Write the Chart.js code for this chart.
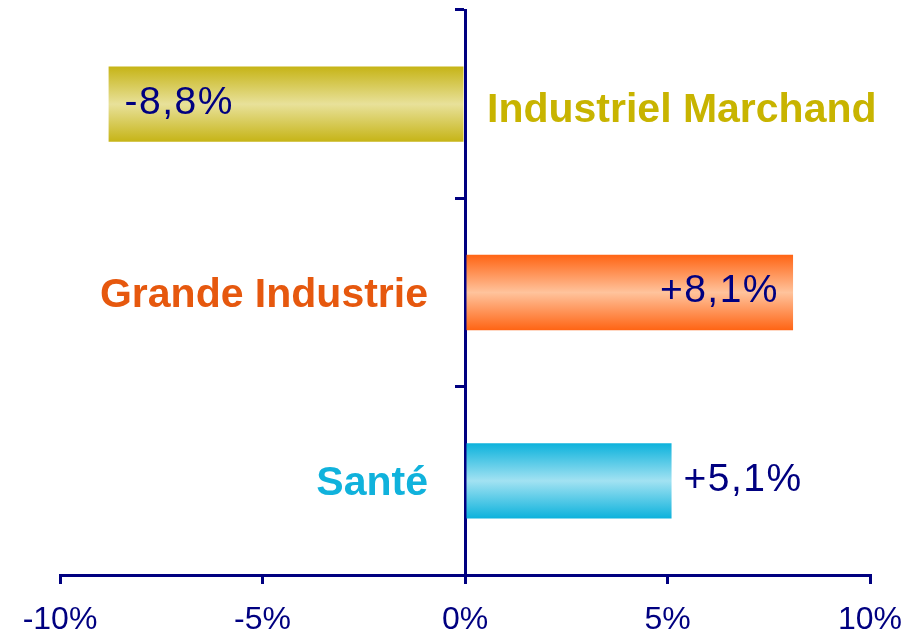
<!DOCTYPE html>
<html>
<head>
<meta charset="utf-8">
<script src="https://cdn.jsdelivr.net/npm/chart.js@4"></script>
<style>
  html, body { margin: 0; padding: 0; background: #fff; }
  #wrap { width: 921px; height: 635px; }
</style>
</head>
<body>
<div id="wrap"><canvas id="chart"></canvas></div>
<script>
// données
const categories = ["Industriel Marchand", "Grande Industrie", "Santé"];
const values = [-8.8, 8.1, 5.1];
const valueLabels = ["-8,8%", "+8,1%", "+5,1%"];
const tickValues = [-10, -5, 0, 5, 10];

// couleurs : bord du dégradé, centre du dégradé, texte
const edgeColors = ["#c6b416", "#ff6414", "#0cb2dc"];
const midColors = ["#e8e19a", "#ffc39c", "#a2e2f2"];
const textColors = ["#c8b400", "#e6580e", "#10b2dc"];
const navy = "#000080";

const barPct = 0.4;

// dégradé vertical pour chaque barre
function barGradient(context) {
  const chart = context.chart;
  const i = context.dataIndex;
  if (!chart.chartArea || i === undefined) return edgeColors[i || 0];
  const y = chart.scales.y;
  const band = y.getPixelForValue(1) - y.getPixelForValue(0);
  const c = y.getPixelForValue(i);
  const half = (band * barPct) / 2;
  const g = chart.ctx.createLinearGradient(0, c - half, 0, c + half);
  g.addColorStop(0, edgeColors[i]);
  g.addColorStop(0.5, midColors[i]);
  g.addColorStop(1, edgeColors[i]);
  return g;
}

// textes : valeurs et noms des catégories
const labelPlugin = {
  id: "labels",
  afterDatasetsDraw(chart) {
    const { ctx, scales } = chart;
    const x = scales.x, y = scales.y;
    const zero = x.getPixelForValue(0);
    ctx.save();
    ctx.textBaseline = "middle";
    values.forEach((v, i) => {
      const cy = y.getPixelForValue(i);
      const end = x.getPixelForValue(v);
      // valeur
      ctx.font = "39px 'Liberation Sans', Arial, sans-serif";
      ctx.letterSpacing = "1.5px";
      ctx.fillStyle = navy;
      const inside = Math.abs(v) > 6;
      if (v < 0) {
        ctx.textAlign = inside ? "left" : "right";
        ctx.fillText(valueLabels[i], inside ? end + 16 : end - 12, cy - 1);
      } else {
        ctx.textAlign = inside ? "right" : "left";
        ctx.fillText(valueLabels[i], inside ? end - 14 : end + 12, cy - 1);
      }
      // catégorie, du côté opposé à la barre
      ctx.font = "bold 41px 'Liberation Sans', Arial, sans-serif";
      ctx.letterSpacing = "0px";
      ctx.fillStyle = textColors[i];
      if (v < 0) {
        ctx.textAlign = "left";
        ctx.fillText(categories[i], zero + 22, cy + 7);
      } else {
        ctx.textAlign = "right";
        ctx.fillText(categories[i], zero - 37, cy + 3);
      }
    });
    ctx.restore();
  }
};

new Chart(document.getElementById("chart"), {
  type: "bar",
  data: {
    labels: categories,
    datasets: [{
      data: values,
      backgroundColor: barGradient,
      borderWidth: 0,
      categoryPercentage: 1,
      barPercentage: barPct
    }]
  },
  options: {
    indexAxis: "y",
    responsive: true,
    maintainAspectRatio: false,
    animation: false,
    layout: { padding: { left: 60, right: 51, top: 10, bottom: 0 } },
    plugins: { legend: { display: false }, tooltip: { enabled: false } },
    scales: {
      x: {
        min: -10,
        max: 10,
        afterBuildTicks: (scale) => {
          scale.ticks = tickValues.map((v) => ({ value: v }));
        },
        afterFit: (scale) => { scale.height = 60; },
        grid: {
          drawOnChartArea: false,
          tickLength: 9,
          color: navy,
          lineWidth: 3
        },
        border: { color: navy, width: 3 },
        ticks: {
          color: navy,
          padding: 17,
          font: { family: "'Liberation Sans', Arial, sans-serif", size: 32 },
          callback: (v) => v + "%"
        }
      },
      y: {
        position: { x: 0 },
        grid: {
          offset: true,
          drawOnChartArea: false,
          tickLength: 9,
          color: navy,
          lineWidth: 3
        },
        border: { color: navy, width: 3 },
        ticks: { display: false }
      }
    }
  },
  plugins: [labelPlugin]
});
</script>
</body>
</html>
